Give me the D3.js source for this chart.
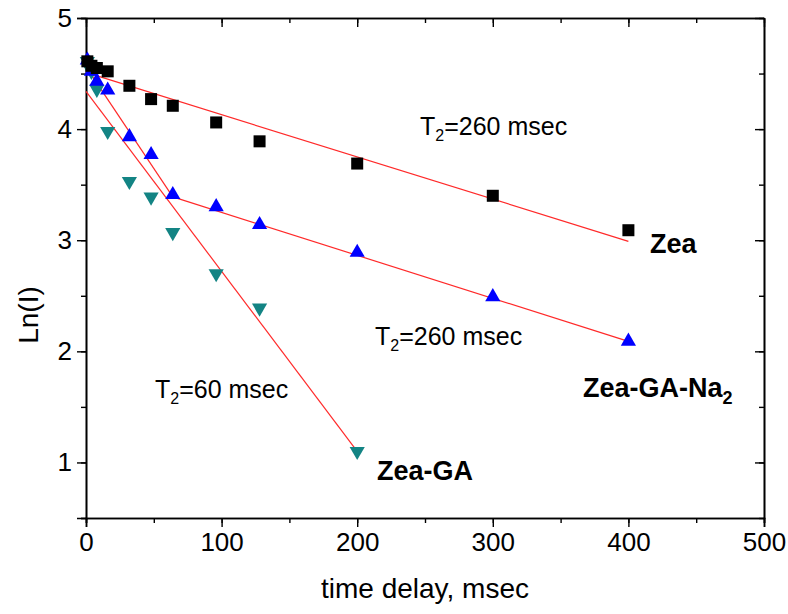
<!DOCTYPE html>
<html>
<head>
<meta charset="utf-8">
<script src="https://cdn.jsdelivr.net/npm/d3@7"></script>
<style>
  body { margin: 0; background: #fff; }
  svg { font-family: "Liberation Sans", Arial, sans-serif; }
  .tick text { font-size: 26px; fill: #000; }
  .domain { stroke: #000; stroke-width: 1.6; }
  .tick line { stroke: #000; stroke-width: 1.4; }
</style>
</head>
<body>
<svg width="788" height="614"></svg>
<script>
"use strict";

// delay times (msec)
const timesZea = [1, 4, 8, 16, 32, 48, 64, 96, 128, 200, 300, 400];
const timesNa2 = [1, 4, 8, 16, 32, 48, 64, 96, 128, 200, 300, 400];
const timesGA = [1, 2, 4, 8, 16, 32, 48, 64, 96, 128, 200];

// Ln(I)
const lnZea = [4.61, 4.57, 4.55, 4.52, 4.39, 4.27, 4.21, 4.06, 3.89, 3.69, 3.40, 3.09];
const lnNa2 = [4.62, 4.52, 4.43, 4.35, 3.93, 3.77, 3.41, 3.30, 3.14, 2.89, 2.49, 2.09];
const lnGA = [4.61, 4.57, 4.52, 4.36, 3.98, 3.53, 3.39, 3.07, 2.70, 2.39, 1.10];

// fitted lines: [t, ln] endpoints
const fitZea = [[0, 4.51], [400, 2.99]];
const fitNa2Fast = [[0, 4.56], [64, 3.39]];
const fitNa2Slow = [[64, 3.39], [400, 2.09]];
const fitGA = [[0, 4.34], [200, 1.10]];

const xTicks = [0, 100, 200, 300, 400, 500];
const yTicks = [1, 2, 3, 4, 5];

const svg = d3.select("svg");
const pLeft = 86, pRight = 764, pTop = 18, pBottom = 518;

const x = d3.scaleLinear().domain([0, 500]).range([pLeft, pRight]);
const y = d3.scaleLinear().domain([0.5, 5]).range([pBottom, pTop]);

const xMinor = d3.range(0, 501, 50);
const yMinor = d3.range(0.5, 5.01, 0.5);

// minor ticks first, majors on top
function minorAxis(axis, scale, vals) {
  return axis(scale).tickValues(vals).tickSize(5).tickFormat("");
}

svg.append("g").attr("transform", `translate(0,${pBottom})`)
  .call(minorAxis(d3.axisBottom, x, xMinor));
svg.append("g").attr("transform", `translate(0,${pBottom})`)
  .call(d3.axisBottom(x).tickValues(xTicks).tickSize(9).tickPadding(6).tickFormat(d3.format("d")));

svg.append("g").attr("transform", `translate(${pLeft},0)`)
  .call(minorAxis(d3.axisLeft, y, yMinor));
svg.append("g").attr("transform", `translate(${pLeft},0)`)
  .call(d3.axisLeft(y).tickValues(yTicks).tickSize(9).tickPadding(5).tickFormat(d3.format("d")));

// top and right: ticks point inward, no labels
svg.append("g").attr("transform", `translate(0,${pTop})`)
  .call(minorAxis(d3.axisBottom, x, xMinor).tickSizeOuter(0));
svg.append("g").attr("transform", `translate(0,${pTop})`)
  .call(d3.axisBottom(x).tickValues(xTicks).tickSize(9).tickSizeOuter(0).tickFormat(""));
svg.append("g").attr("transform", `translate(${pRight},0)`)
  .call(minorAxis(d3.axisLeft, y, yMinor).tickSizeOuter(0));
svg.append("g").attr("transform", `translate(${pRight},0)`)
  .call(d3.axisLeft(y).tickValues(yTicks).tickSize(9).tickSizeOuter(0).tickFormat(""));

// axis titles
svg.append("text")
  .attr("x", (pLeft + pRight) / 2).attr("y", 598)
  .attr("text-anchor", "middle")
  .style("font-size", "28px")
  .text("time delay, msec");

svg.append("text")
  .attr("transform", "translate(38,315) rotate(-90)")
  .attr("text-anchor", "middle")
  .style("font-size", "28px")
  .text("Ln(I)");

// fit lines
const line = d3.line().x((d) => x(d[0])).y((d) => y(d[1]));
[fitZea, fitNa2Fast, fitNa2Slow, fitGA].forEach((f) => {
  svg.append("path")
    .attr("d", line(f))
    .attr("fill", "none")
    .attr("stroke", "#ff2a2a")
    .attr("stroke-width", 1.2);
});

// markers
const toPts = (ts, vs) => ts.map((t, i) => ({ t: t, v: vs[i] }));

svg.selectAll("path.ga")
  .data(toPts(timesGA, lnGA))
  .enter().append("path")
  .attr("class", "ga")
  .attr("d", d3.symbol().type(d3.symbolTriangle).size(100))
  .attr("transform", (d) => `translate(${x(d.t)},${y(d.v)}) rotate(180)`)
  .style("fill", "#138484");

svg.selectAll("path.na2")
  .data(toPts(timesNa2, lnNa2))
  .enter().append("path")
  .attr("class", "na2")
  .attr("d", d3.symbol().type(d3.symbolTriangle).size(100))
  .attr("transform", (d) => `translate(${x(d.t)},${y(d.v)})`)
  .style("fill", "#0000ff");

svg.selectAll("rect.zea")
  .data(toPts(timesZea, lnZea))
  .enter().append("rect")
  .attr("class", "zea")
  .attr("x", (d) => x(d.t) - 6)
  .attr("y", (d) => y(d.v) - 6)
  .attr("width", 12)
  .attr("height", 12)
  .style("fill", "#000");

// annotations
function t2Label(px, py, val) {
  const t = svg.append("text").attr("x", px).attr("y", py).style("font-size", "25px");
  t.append("tspan").text("T");
  t.append("tspan").attr("dy", 6).style("font-size", "16px").text("2");
  t.append("tspan").attr("dy", -6).text("=" + val + " msec");
}
t2Label(420, 135, 260);
t2Label(375, 345, 260);
t2Label(155, 398, 60);

function nameLabel(px, py, name, sub) {
  const t = svg.append("text").attr("x", px).attr("y", py)
    .style("font-size", "27px").style("font-weight", "bold");
  t.append("tspan").text(name);
  if (sub) t.append("tspan").attr("dy", 7).style("font-size", "18px").text(sub);
}
nameLabel(650, 253, "Zea");
nameLabel(583, 397, "Zea-GA-Na", "2");
nameLabel(377, 480, "Zea-GA");
</script>
</body>
</html>
